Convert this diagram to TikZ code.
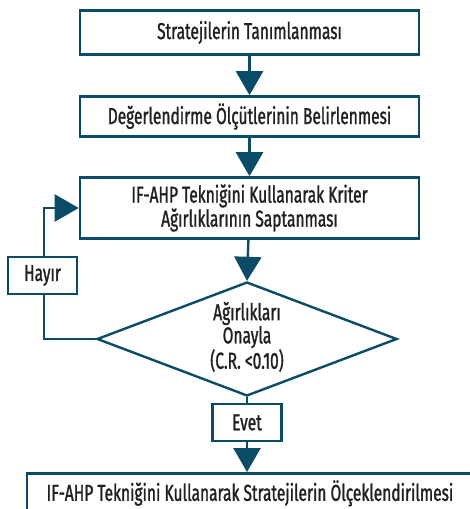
\documentclass[tikz,border=0pt]{standalone}
\usepackage{fontspec}
\setmainfont{Fira Sans}[FakeStretch=0.675, FakeBold=1.2]
\usetikzlibrary{arrows.meta,shapes.geometric}
\definecolor{flow}{HTML}{0A4B68}
\definecolor{ink}{HTML}{231F20}
\tikzset{
  txt/.style={text=ink, align=center, font=\fontsize{23}{22}\selectfont},
  box/.style={txt, draw=flow, line width=2.6pt, fill=white, inner sep=0pt},
  conn/.style={draw=flow, line width=2.4pt},
  arr/.style={conn, -{Triangle[width=27pt,length=24pt]}},
}
\begin{document}
\begin{tikzpicture}[x=1pt,y=-1pt]
\clip (0,0) rectangle (470,509);
\fill[white] (0,0) rectangle (470,509);
\node[box, minimum width=339pt, minimum height=44pt] (s1) at (249.5,32.5) {Stratejilerin Tanımlanması};
\node[box, minimum width=339pt, minimum height=40pt] (s2) at (249.5,116.5) {Değerlendirme Ölçütlerinin Belirlenmesi};
\node[box, minimum width=339pt, minimum height=61pt] (s3) at (249.5,208) {IF-AHP Tekniğini Kullanarak Kriter\\Ağırlıklarının Saptanması};
\node[diamond, draw=flow, line width=2.4pt, minimum width=300pt, minimum height=114pt, inner sep=0pt] (d) at (247,339) {};
\node[txt] (dtxt) at (247,337) {Ağırlıkları\\Onayla\\(C.R. <0.10)};
\node[box, minimum width=69pt, minimum height=37pt] (evet) at (247,422.5) {Evet};
\node[box, minimum width=446pt, minimum height=40pt, anchor=north] (s4) at (250,472) {IF-AHP Tekniğini Kullanarak Stratejilerin Ölçeklendirilmesi};
\coordinate (fbA) at (44,339);
\coordinate (fbB) at (44,208);
\draw[arr] (s1) -- (s2);
\draw[arr] (s2) -- (s3);
\draw[arr] (s3) -- (d.north);
\draw[conn] (d.south) -- (evet);
\draw[arr] (evet) -- (s4.north -| evet);
\draw[arr] (d.west) -- (fbA) -- (fbB) -- (fbB -| s3.west);
\node[box, minimum width=69pt, minimum height=37pt] (hayir) at (42.5,275.5) {Hayır};
\end{tikzpicture}
\end{document}
